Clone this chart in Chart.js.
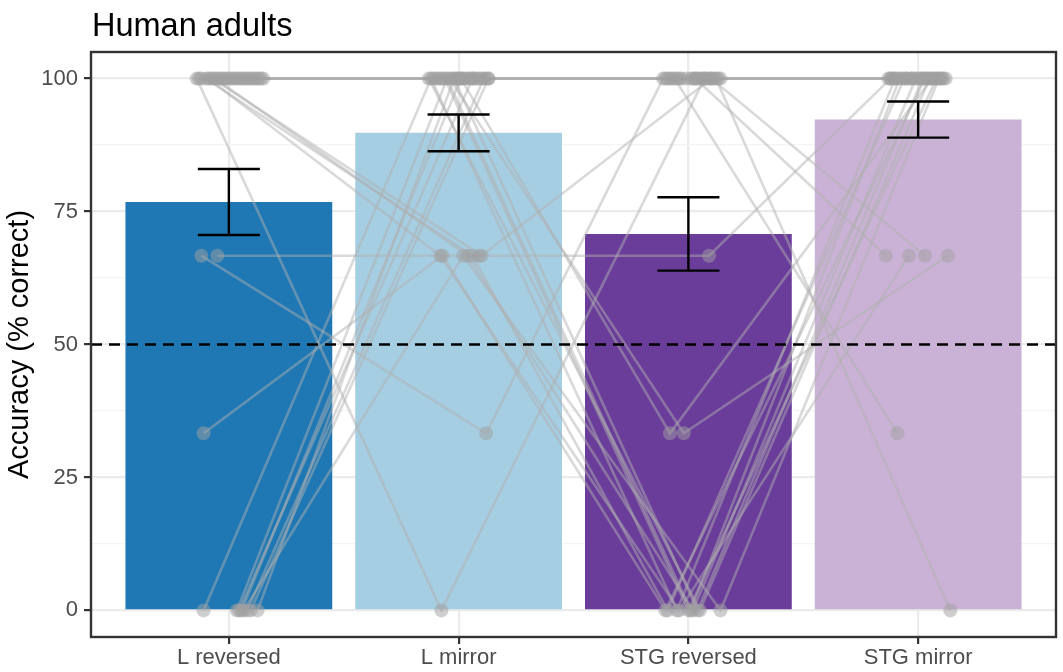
<!DOCTYPE html>
<html>
<head>
<meta charset="utf-8">
<script src="https://cdn.jsdelivr.net/npm/chart.js@4.4.1/dist/chart.umd.min.js"></script>
<style>
  html, body { margin: 0; padding: 0; background: #ffffff; }
  #wrap { width: 1063px; height: 672px; }
</style>
</head>
<body>
<div id="wrap"><canvas id="chart" width="1063" height="672"></canvas></div>
<script>
// Conditions along the x axis
const categories = ['L reversed', 'L mirror', 'STG reversed', 'STG mirror'];

// Group means and standard errors (% correct)
const meanAccuracy = [76.8, 89.8, 70.8, 92.3];
const seAccuracy = [6.2, 3.45, 6.9, 3.4];

// Per-participant accuracy (% correct), participant order is shared across conditions
const lReversed = [
  66.7, 66.7, 33.3, 0, 0, 0, 0, 0, 0, 0,
  0, 100, 100, 100, 100, 100, 100, 100, 100, 100,
  100, 100, 100, 100, 100, 100, 100, 100, 100, 100,
  100, 100, 100, 100, 100, 100, 100, 100, 100, 100
];
const lMirror = [
  66.7, 33.3, 66.7, 100, 100, 100, 100, 100, 100, 66.7,
  100, 0, 100, 66.7, 66.7, 66.7, 66.7, 100, 100, 100,
  100, 100, 100, 100, 100, 100, 100, 100, 100, 100,
  100, 100, 100, 100, 100, 100, 100, 100, 100, 100
];
const stgReversed = [
  66.7, 100, 0, 0, 0, 33.3, 100, 0, 100, 0,
  100, 100, 100, 0, 0, 100, 0, 0, 100, 0,
  33.3, 100, 100, 100, 100, 100, 100, 100, 100, 100,
  100, 100, 100, 100, 100, 100, 100, 100, 100, 100
];
const stgMirror = [
  100, 100, 100, 100, 100, 100, 66.7, 100, 100, 100,
  100, 100, 100, 100, 66.7, 66.7, 100, 100, 33.3, 100,
  66.7, 0, 100, 100, 100, 100, 100, 100, 100, 100,
  100, 100, 100, 100, 100, 100, 100, 100, 100, 100
];

// Horizontal jitter of each participant's point (in category units)
const jitterLReversed = [
  -0.05, -0.12, -0.11, -0.11, 0.035, 0.055, 0.08, 0.125, 0.045, 0.065,
  0.095, -0.14, -0.12, -0.10, -0.09, -0.07, -0.06, -0.05, -0.03, -0.02,
  -0.01, 0.00, 0.01, 0.03, 0.04, 0.05, 0.06, 0.08, 0.09, 0.10,
  0.11, 0.12, 0.13, 0.15, -0.13, -0.08, 0.02, 0.07, 0.14, -0.04
];
const jitterLMirror = [
  0.09, 0.12, -0.07, -0.12, -0.05, 0.01, 0.11, -0.02, 0.06, 0.02,
  0.13, -0.075, -0.10, 0.06, -0.08, 0.10, 0.04, -0.13, -0.09, -0.06,
  -0.04, -0.01, 0.00, 0.02, 0.03, 0.05, 0.07, 0.08, 0.09, 0.12,
  -0.11, -0.08, -0.03, 0.01, 0.04, 0.10, -0.07, 0.13, -0.01, 0.06
];
const jitterStgReversed = [
  0.09, -0.11, -0.10, -0.05, 0.01, -0.08, 0.03, 0.04, 0.13, 0.14,
  -0.04, 0.07, -0.09, -0.09, -0.04, 0.10, 0.02, 0.05, -0.06, 0.00,
  -0.02, 0.12, -0.10, -0.07, -0.03, 0.01, 0.05, 0.06, 0.08, 0.11,
  0.14, -0.01, 0.02, 0.09, -0.08, 0.03, 0.07, -0.05, 0.10, 0.04
];
const jitterStgMirror = [
  -0.12, -0.05, 0.03, -0.10, -0.08, 0.06, -0.14, 0.02, -0.03, 0.09,
  0.04, -0.11, 0.10, -0.06, -0.04, 0.03, -0.01, 0.05, -0.09, 0.08,
  0.13, 0.14, -0.13, -0.07, -0.02, 0.00, 0.01, 0.07, 0.11, -0.12,
  -0.10, 0.04, 0.08, -0.05, 0.06, 0.12, -0.09, 0.02, -0.03, 0.10
];

// Y tick values (major every 25, minor halfway between)
const yTickValues = [0, 12.5, 25, 37.5, 50, 62.5, 75, 87.5, 100];
const chanceLevel = 50;

const barColors = ['#1f78b4', '#a6cee3', '#6a3d9a', '#cab2d6'];
const FONT = '"Liberation Sans", Arial, Helvetica, sans-serif';

const conditionValues = [lReversed, lMirror, stgReversed, stgMirror];
const conditionJitter = [jitterLReversed, jitterLMirror, jitterStgReversed, jitterStgMirror];

// One connecting line per participant
const lineDatasets = lReversed.map((_, p) => ({
  type: 'line',
  data: conditionValues.map((vals, c) => ({ x: c + 1 + conditionJitter[c][p], y: vals[p] })),
  borderColor: 'rgba(175,175,175,0.48)',
  borderWidth: 2.6,
  pointRadius: 0,
  fill: false,
  tension: 0,
  order: 2
}));

// All participant points
const pointData = [];
conditionValues.forEach((vals, c) => {
  vals.forEach((v, p) => pointData.push({ x: c + 1 + conditionJitter[c][p], y: v }));
});

const titlePlugin = {
  id: 'panelTitle',
  afterDraw(chart) {
    const ctx = chart.ctx;
    ctx.save();
    ctx.fillStyle = '#000000';
    ctx.font = '32.5px ' + FONT;
    ctx.textAlign = 'left';
    ctx.textBaseline = 'alphabetic';
    ctx.fillText('Human adults', chart.chartArea.left + 1, 36);
    ctx.restore();
  }
};

const overlayPlugin = {
  id: 'overlay',
  afterDatasetsDraw(chart) {
    const ctx = chart.ctx;
    const xs = chart.scales.x, ys = chart.scales.y;
    const area = chart.chartArea;
    ctx.save();
    // chance level
    ctx.strokeStyle = '#000000';
    ctx.lineWidth = 2.4;
    ctx.setLineDash([11, 7]);
    const yc = ys.getPixelForValue(chanceLevel);
    ctx.beginPath();
    ctx.moveTo(area.left, yc);
    ctx.lineTo(area.right, yc);
    ctx.stroke();
    ctx.setLineDash([]);
    // error bars
    ctx.lineWidth = 2.4;
    meanAccuracy.forEach((m, i) => {
      const xc = xs.getPixelForValue(i + 1);
      const half = xs.getPixelForValue(i + 1 + 0.135) - xc;
      const yHi = ys.getPixelForValue(m + seAccuracy[i]);
      const yLo = ys.getPixelForValue(m - seAccuracy[i]);
      ctx.beginPath();
      ctx.moveTo(xc - half, yHi); ctx.lineTo(xc + half, yHi);
      ctx.moveTo(xc, yHi); ctx.lineTo(xc, yLo);
      ctx.moveTo(xc - half, yLo); ctx.lineTo(xc + half, yLo);
      ctx.stroke();
    });
    ctx.restore();
  },
  afterDraw(chart) {
    const ctx = chart.ctx;
    const a = chart.chartArea;
    ctx.save();
    ctx.strokeStyle = '#333333';
    ctx.lineWidth = 2.4;
    ctx.strokeRect(a.left, a.top, a.right - a.left, a.bottom - a.top);
    ctx.restore();
  }
};

new Chart(document.getElementById('chart'), {
  type: 'bar',
  data: {
    datasets: [
      {
        type: 'bar',
        data: meanAccuracy.map((m, i) => ({ x: i + 1, y: m })),
        backgroundColor: barColors,
        borderWidth: 0,
        barPercentage: 0.9,
        categoryPercentage: 1,
        order: 3
      },
      ...lineDatasets,
      {
        type: 'scatter',
        data: pointData,
        pointRadius: 7,
        pointBackgroundColor: 'rgba(160,160,160,0.5)',
        pointBorderWidth: 0,
        showLine: false,
        order: 1
      }
    ]
  },
  options: {
    responsive: false,
    devicePixelRatio: 1,
    animation: false,
    layout: { padding: { top: 52, right: 3, left: 0, bottom: 0 } },
    plugins: { legend: { display: false }, tooltip: { enabled: false }, title: { display: false } },
    scales: {
      x: {
        type: 'linear',
        min: 0.4,
        max: 4.6,
        offset: false,
        afterBuildTicks: axis => { axis.ticks = categories.map((_, i) => ({ value: i + 1 })); },
        afterFit: axis => { axis.height = 35; },
        ticks: {
          autoSkip: false,
          maxRotation: 0,
          padding: 1,
          color: '#4d4d4d',
          font: { size: 22, family: FONT },
          callback: v => categories[Math.round(v) - 1]
        },
        grid: {
          offset: false,
          color: '#ebebeb',
          lineWidth: 2.2,
          tickLength: 7,
          tickColor: '#333333',
          tickWidth: 2.2
        },
        border: { display: false }
      },
      y: {
        type: 'linear',
        min: -5,
        max: 105,
        afterBuildTicks: axis => { axis.ticks = yTickValues.map(v => ({ value: v })); },
        afterFit: axis => { axis.width = 91; },
        ticks: {
          autoSkip: false,
          padding: 6,
          color: '#4d4d4d',
          font: { size: 22, family: FONT },
          callback: v => (v % 25 === 0 ? String(v) : '')
        },
        grid: {
          color: ctx => (ctx.tick && ctx.tick.value % 25 === 0 ? '#ebebeb' : '#f4f4f4'),
          lineWidth: ctx => (ctx.tick && ctx.tick.value % 25 === 0 ? 2.2 : 1.2),
          tickLength: 7,
          tickColor: ctx => (ctx.tick && ctx.tick.value % 25 === 0 ? '#333333' : 'rgba(0,0,0,0)'),
          tickWidth: 2.2
        },
        border: { display: false },
        title: {
          display: true,
          text: 'Accuracy (% correct)',
          color: '#000000',
          font: { size: 29, family: FONT },
          padding: { top: 3, bottom: 0 }
        }
      }
    }
  },
  plugins: [titlePlugin, overlayPlugin]
});
</script>
</body>
</html>
